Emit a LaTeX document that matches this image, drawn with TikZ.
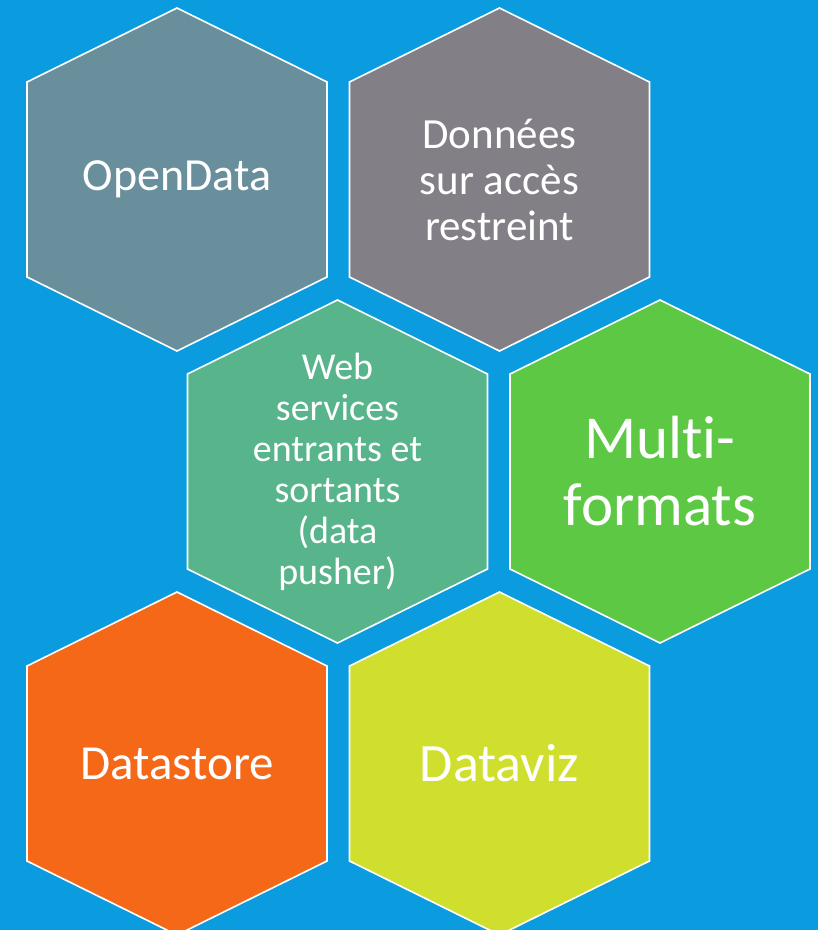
\documentclass[tikz,border=0pt]{standalone}
\usepackage{fontspec}
\setmainfont{Carlito}[Ligatures=NoCommon]
\usepackage{tikz}
\usetikzlibrary{backgrounds}
\definecolor{skyblue}{RGB}{11,156,223}
\definecolor{slate}{RGB}{106,143,156}
\definecolor{ashgrey}{RGB}{130,128,134}
\definecolor{seagreen}{RGB}{88,180,138}
\definecolor{leafgreen}{RGB}{92,200,68}
\definecolor{tangerine}{RGB}{245,104,24}
\definecolor{lime}{RGB}{208,223,46}

\begin{document}
\begin{tikzpicture}
              [x=1pt,y=-1pt,
                every node/.style={text=white,align=center,inner sep=0pt},
                txtl/.style={font=\fontsize{46}{50}\selectfont},
                txtm/.style={font=\fontsize{43}{46}\selectfont},
                txts/.style={font=\fontsize{38}{41}\selectfont},
                txtxl/.style={font=\fontsize{61}{67}\selectfont},
                cell/.style={draw=white,line width=1.6pt}]
              \useasboundingbox (0,0) rectangle (818,930);
              \node[txtl] (n1) at (177,179.5) {OpenData};
              \node[txtm] (n2) at (499.5,179.5) {Donn\'ees\\sur acc\`es\\restreint};
              \node[txts] (n3) at (337.5,471.5) {Web\\services\\entrants et\\sortants\\(data\\pusher)};
              \node[txtxl] (n4) at (660,471.5) {Multi-\\formats};
              \node[txtl,font=\fontsize{49}{54}\selectfont] (n5) at (177,763.5) {Datastore};
              \node[txtl,font=\fontsize{54}{60}\selectfont] (n6) at (499.5,763.5) {Dataviz};
              \begin{scope}[on background layer]
              \fill[skyblue] (0,0) rectangle (818,930);
              \foreach \n/\c in {n1/slate,n2/ashgrey,n3/seagreen,n4/leafgreen,n5/tangerine,n6/lime}
              \filldraw[cell,fill=\c] (\n.center) ++(0,-171.5) -- ++(150,74) -- ++(0,195)
                -- ++(-150,74) -- ++(-150,-74) -- ++(0,-195) -- cycle;
              \end{scope}
            \end{tikzpicture}
\end{document}
